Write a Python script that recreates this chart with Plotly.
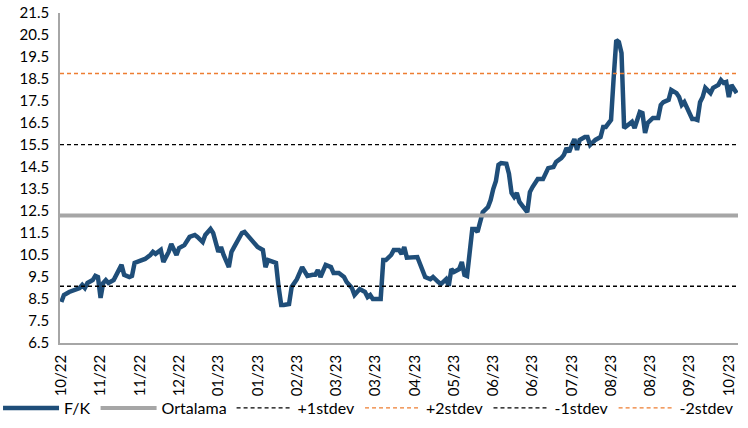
import plotly.graph_objects as go

# ---- data ----
day_index = [0, 1, 3, 5, 7, 8, 9, 10, 12, 13, 14, 15, 16, 17, 18, 20, 21, 23, 24, 26,
             27, 28, 30, 32, 34, 35, 36, 38, 39, 41, 42, 44, 45, 47, 49, 51, 52, 54, 55, 57,
             58, 59, 60, 61, 62, 64, 65, 66, 67, 69, 70, 72, 75, 77, 78, 79, 82, 83, 84, 85,
             87, 88, 90, 92, 94, 96, 97, 98, 99, 101, 103, 104, 106, 108, 109, 111, 112, 114, 116, 117,
             118, 119, 122, 123, 124, 126, 127, 129, 130, 131, 132, 136, 139, 141, 142, 144, 145, 147, 148, 149,
             150, 152, 153, 154, 155, 157, 158, 159, 160, 161, 163, 164, 165, 166, 167, 168, 170, 171, 172, 173,
             174, 175, 178, 179, 180, 182, 184, 186, 188, 189, 191, 192, 193, 194, 195, 196, 197, 198, 200, 201,
             202, 204, 206, 207, 208, 210, 211, 212, 213, 214, 215, 216, 217, 218, 219, 220, 221, 222, 223, 224,
             226, 228, 229, 230, 232, 233, 235, 236, 237, 238, 239, 241, 242, 243, 244, 245, 246, 248, 249, 251,
             252, 253, 254, 255, 256, 257, 258]
fk_values = [8.36, 8.68, 8.82, 8.90, 9.00, 9.14, 9.00, 9.23, 9.36, 9.55, 9.50, 8.55, 9.23, 9.36, 9.23, 9.36, 9.60, 10.05, 9.60, 9.50,
             9.55, 10.14, 10.23, 10.32, 10.50, 10.64, 10.55, 10.73, 10.18, 10.64, 11.00, 10.50, 10.82, 10.95, 11.32, 11.41, 11.32, 11.09, 11.41, 11.68,
             11.50, 11.05, 10.64, 10.86, 10.50, 9.95, 10.64, 10.86, 11.09, 11.50, 11.55, 11.27, 10.86, 10.73, 9.95, 10.27, 10.14, 9.05, 8.23, 8.23,
             8.27, 9.05, 9.40, 9.95, 9.55, 9.60, 9.60, 9.82, 9.50, 10.05, 9.95, 9.68, 9.68, 9.50, 9.27, 9.00, 8.68, 8.95, 8.82, 8.59,
             8.68, 8.50, 8.50, 10.27, 10.27, 10.50, 10.73, 10.73, 10.55, 10.86, 10.38, 10.41, 9.50, 9.40, 9.50, 9.27, 9.18, 9.40, 9.10, 9.86,
             9.73, 9.86, 10.18, 9.60, 9.55, 11.68, 11.68, 11.55, 11.95, 12.45, 12.68, 13.00, 13.50, 13.85, 14.60, 14.68, 14.65, 14.20, 13.32, 13.14,
             13.32, 12.91, 12.45, 13.36, 13.59, 13.95, 13.95, 14.45, 14.50, 14.73, 14.90, 15.05, 15.36, 15.18, 15.50, 15.77, 15.27, 15.73, 15.86, 15.86,
             15.50, 15.73, 15.86, 16.32, 16.32, 16.64, 18.55, 20.27, 20.18, 19.68, 16.27, 16.36, 16.50, 16.55, 16.27, 16.73, 17.00, 16.95, 16.05, 16.50,
             16.73, 16.73, 17.32, 17.45, 17.55, 18.00, 17.86, 17.68, 17.32, 17.45, 17.18, 16.68, 16.68, 16.64, 17.45, 17.68, 18.10, 17.86, 18.10, 18.23,
             18.45, 18.32, 18.36, 17.68, 18.23, 18.00, 17.86]

ortalama = 12.30
plus1 = 15.52
plus2 = 18.75
minus1 = 9.08
minus2 = 5.86

tick_index = [0, 15, 30, 45, 60, 75, 90, 105, 120, 135, 150, 165, 180, 195, 210, 225, 240, 255]
tick_labels = ["10/22", "11/22", "11/22", "12/22", "01/23", "01/23", "02/23", "03/23", "03/23",
               "04/23", "05/23", "06/23", "06/23", "07/23", "08/23", "08/23", "09/23", "10/23"]

y_ticks = [6.5 + k for k in range(16)]

# ---- figure ----
FONT = "Lato"
x_lo = day_index[0] - 0.5
x_hi = day_index[-1] + 0.5
span = [x_lo, x_hi]
ORANGE = "#ED7D31"

fig = go.Figure()
fig.add_trace(go.Scatter(x=day_index, y=fk_values, mode="lines", name="F/K",
                         line=dict(color="#1F4E79", width=4.5)))
fig.add_trace(go.Scatter(x=span, y=[ortalama, ortalama], mode="lines", name="Ortalama",
                         line=dict(color="#A6A6A6", width=4)))
fig.add_trace(go.Scatter(x=span, y=[plus1, plus1], mode="lines", name="+1stdev",
                         line=dict(color="#000000", width=1.3, dash="4px,3px")))
fig.add_trace(go.Scatter(x=span, y=[plus2, plus2], mode="lines", name="+2stdev",
                         line=dict(color=ORANGE, width=1.3, dash="4px,3px")))
fig.add_trace(go.Scatter(x=span, y=[minus1, minus1], mode="lines", name="-1stdev",
                         line=dict(color="#000000", width=1.3, dash="4px,3px")))
fig.add_trace(go.Scatter(x=span, y=[minus2, minus2], mode="lines", name="-2stdev",
                         line=dict(color=ORANGE, width=1.3, dash="4px,3px")))

fig.update_layout(
    width=748, height=428,
    margin=dict(l=60, r=10, t=13, b=85, autoexpand=False),
    paper_bgcolor="white", plot_bgcolor="white",
    font=dict(family=FONT, size=15, color="#000000"),
    showlegend=True,
    legend=dict(orientation="h", x=-0.0914, xanchor="left", y=-0.197, yanchor="middle",
                itemwidth=56, font=dict(family=FONT, size=16), tracegroupgap=0,
                bgcolor="rgba(0,0,0,0)"),
)
fig.update_xaxes(range=[x_lo, x_hi], tickmode="array", tickvals=tick_index, ticktext=tick_labels,
                 tickangle=-90, showgrid=False, zeroline=False, showline=True, automargin=False,
                 linecolor="#A6A6A6", linewidth=1.5, ticks="", ticklabelstandoff=4,
                 tickfont=dict(family=FONT, size=15))
fig.update_yaxes(range=[6.5, 21.5], tickmode="array", tickvals=y_ticks,
                 ticktext=[f"{v:.1f}" for v in y_ticks], automargin=False,
                 showgrid=False, zeroline=False, showline=True,
                 linecolor="#A6A6A6", linewidth=1.5, ticks="", ticklabelstandoff=6,
                 tickfont=dict(family=FONT, size=15))

# remove the browser's default 8px page margin so the figure sits at the window's corner
fig.write_html("out.html", config={"displayModeBar": False},
               post_script="document.body.style.margin='0px';")
